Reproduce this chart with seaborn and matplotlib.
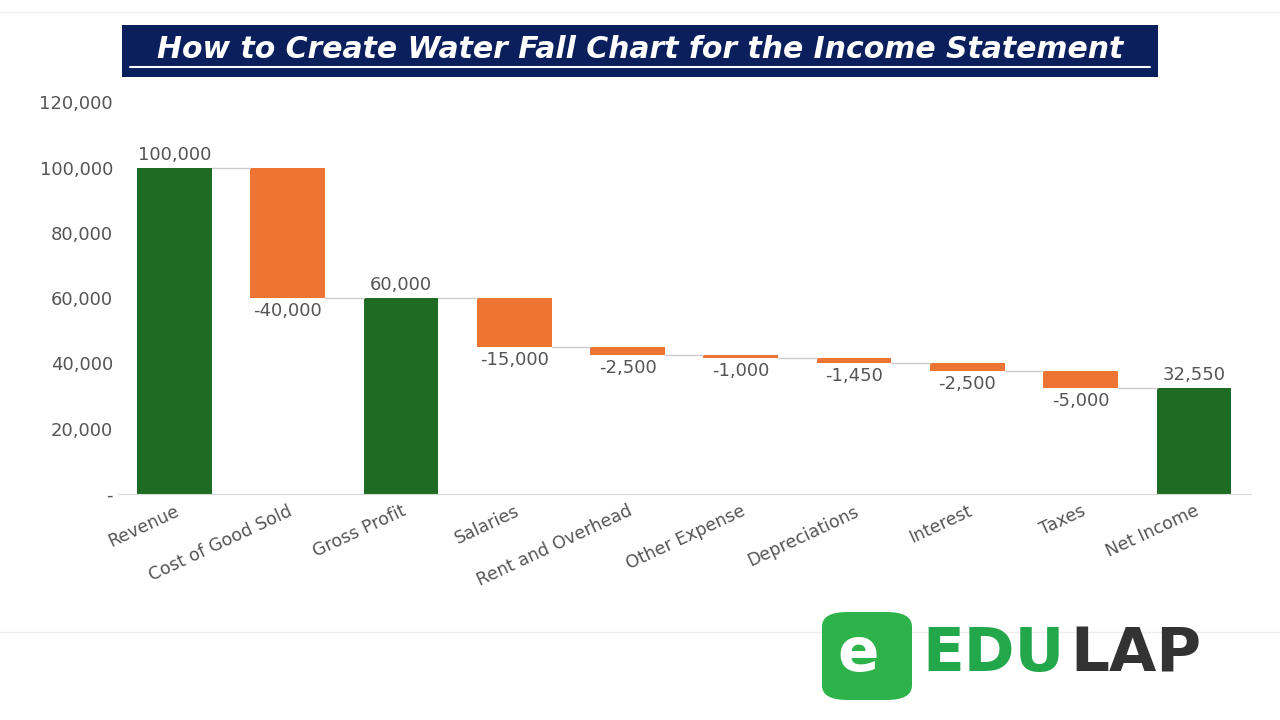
import matplotlib
matplotlib.use("Agg")
import matplotlib.pyplot as plt
import seaborn as sns
import numpy as np
import pandas as pd
from matplotlib.patches import FancyBboxPatch

categories = ["Revenue", "Cost of Good Sold", "Gross Profit", "Salaries", "Rent and Overhead",
              "Other Expense", "Depreciations", "Interest", "Taxes", "Net Income"]
changes = [100000, -40000, 60000, -15000, -2500, -1000, -1450, -2500, -5000, 32550]
is_total = [True, False, True, False, False, False, False, False, False, True]

green = "#1E6B23"
orange = "#ED7433"

bottoms, heights, tops = [], [], []
running = 0
for v, t in zip(changes, is_total):
    if t:
        running = v
        bottoms.append(0); heights.append(v)
    else:
        new = running + v
        bottoms.append(new); heights.append(-v)
        running = new
    tops.append(running)

df = pd.DataFrame({"cat": categories, "h": heights})
colors = [green if t else orange for t in is_total]

sns.set_style("white")
fig = plt.figure(figsize=(12.8, 7.2), dpi=100)
ax = fig.add_axes([0.092, 0.314, 0.885, 0.544])
sns.barplot(data=df, x="cat", y="h", color=green, bottom=bottoms, width=0.66, ax=ax, saturation=1)
for p, c in zip(ax.patches, colors):
    p.set_facecolor(c)
    p.set_edgecolor("none")
ax.set_ylim(0, 120000)
ax.set_xlim(-0.5, len(categories) - 0.5)
ax.set_yticks(range(0, 120001, 20000))
ax.set_yticklabels(["-"] + [f"{v:,}" for v in range(20000, 120001, 20000)], fontsize=13, color="#555555")
ax.set_xticks(range(len(categories)))
ax.set_xticklabels(categories, rotation=25, ha="right", rotation_mode="anchor", fontsize=12.5, color="#555555")
ax.tick_params(axis="x", length=0, pad=6)
ax.tick_params(axis="y", length=0)
ax.set_xlabel(""); ax.set_ylabel("")
for s in ["top", "right", "left"]:
    ax.spines[s].set_visible(False)
ax.spines["bottom"].set_color("#d9d9d9")

for i in range(len(categories) - 1):
    ax.plot([i + 0.33, i + 1 - 0.33], [tops[i], tops[i]], color="#cccccc", lw=1)

for i, (v, t) in enumerate(zip(changes, is_total)):
    if t:
        ax.text(i, v + 1200, f"{v:,}", ha="center", va="bottom", fontsize=13, color="#555555")
    else:
        ax.text(i, bottoms[i] - 1200, f"{v:,}", ha="center", va="top", fontsize=13, color="#555555")

fig.patches.append(FancyBboxPatch((122/1280, 1-77/720), 1036/1280, 52/720, boxstyle="square,pad=0",
                                  transform=fig.transFigure, facecolor="#0B1F5C", edgecolor="none"))
fig.text(640/1280, 1-50/720, "How to Create Water Fall Chart for the Income Statement",
         ha="center", va="center", fontsize=21.5, fontweight="bold", fontstyle="italic", color="white")
fig.lines.append(plt.Line2D([130/1280, 1150/1280], [1-67/720, 1-67/720], transform=fig.transFigure,
                            color="white", lw=1.5))

for yy in [12, 632]:
    fig.lines.append(plt.Line2D([0, 1], [1-yy/720, 1-yy/720], transform=fig.transFigure,
                                color="#eeeeee", lw=1, zorder=0))

fig.patches.append(FancyBboxPatch((822/1280, 1-700/720), 90/1280, 88/720, boxstyle="round,pad=0,rounding_size=0.02",
                                  transform=fig.transFigure, facecolor="#2DB34A", edgecolor="none", zorder=5))
fig.text(858/1280, 1-655/720, "e", ha="center", va="center", fontsize=44, fontweight="bold", color="white", zorder=6)
fig.text(922/1280, 1-655/720, "EDU", ha="left", va="center", fontsize=44, fontweight="bold", color="#22A84A")
fig.text(1070/1280, 1-655/720, "LAP", ha="left", va="center", fontsize=44, fontweight="bold", color="#333333")

fig.savefig("out.png", dpi=100)
